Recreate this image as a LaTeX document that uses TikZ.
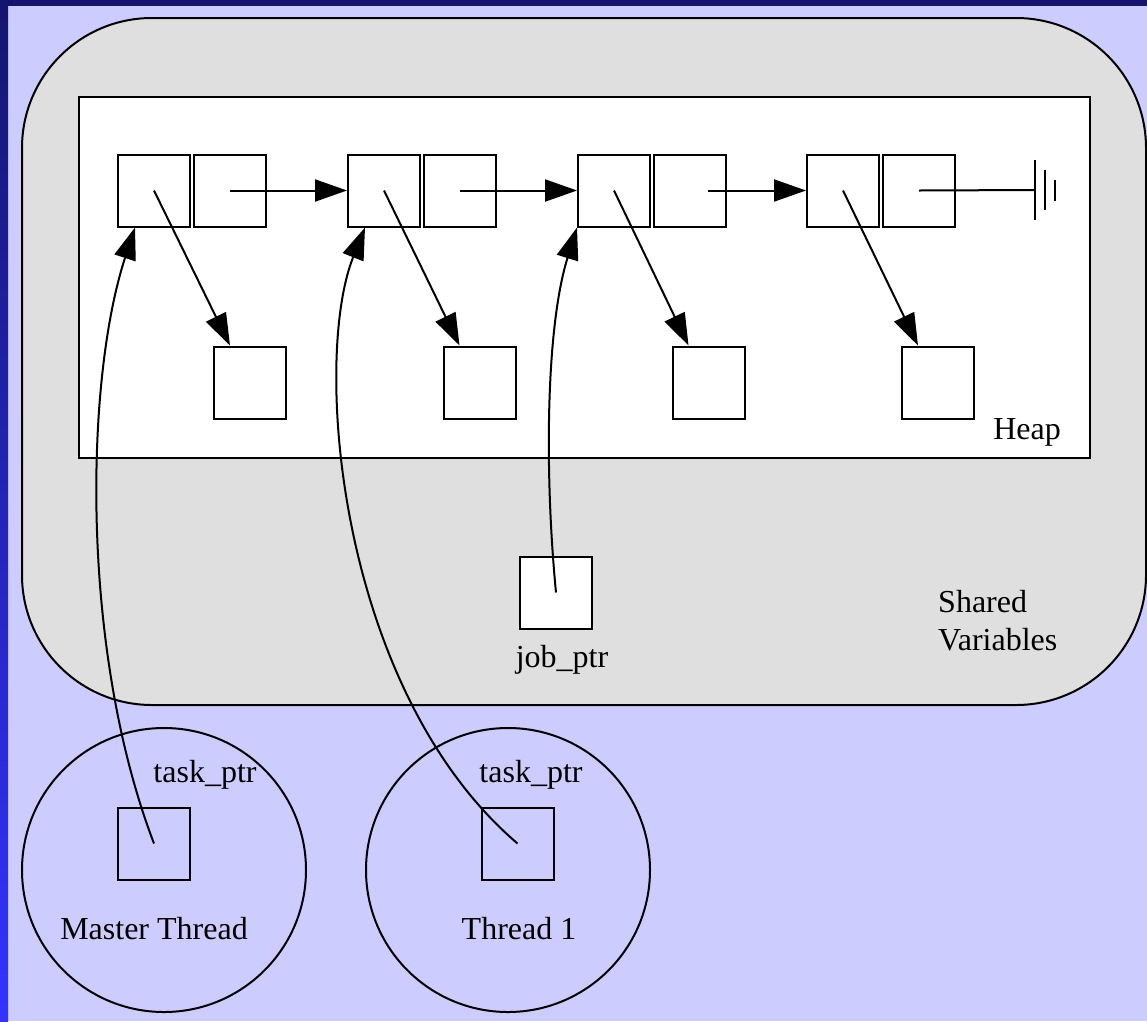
\documentclass[tikz,border=0pt]{standalone}
\usepackage{fontspec}
\setmainfont{Liberation Serif}
\usetikzlibrary{arrows.meta,calc}
\definecolor{slidebg}{HTML}{CCCCFF}
\definecolor{barnavy}{HTML}{15156F}
\definecolor{barblue}{HTML}{3333FF}
\definecolor{sharedgray}{HTML}{DFDFDF}
\tikzset{
  cell/.style={draw, fill=white, line width=2pt, minimum width=72pt, minimum height=72pt, inner sep=0pt},
  ptr/.style={line width=2pt, -{Triangle[length=32pt,width=22pt]}},
  link/.style={line width=2pt},
  lbl/.style={font=\fontsize{32}{38}\selectfont, inner sep=0pt},
}
\begin{document}
\begin{tikzpicture}[x=1pt,y=-1pt]
\useasboundingbox (0,0) rectangle (1147,1021);
% slide background with its top and left bars
\fill[slidebg] (0,0) rectangle (1147,1021);
\fill[barnavy] (0,0) rectangle (1147,6);
\shade[top color=barnavy, bottom color=barblue] (0,0) rectangle (8,1021);

% shared memory region
\draw[fill=sharedgray, line width=2pt, rounded corners=130pt] (22,18) rectangle (1146,705);
% heap
\draw[fill=white, line width=2pt] (79,97) rectangle (1090,458);
\node[lbl] (heaplbl) at (1027,432) {Heap};
\node[lbl, align=left, anchor=west] (sharedlbl) at (938,621) {Shared\\Variables};

% list cells
\foreach \i/\lx/\rx/\sx in {1/154/230/250, 2/384/460/479.5, 3/614/690/708.5, 4/843/919/938} {
  \node[cell] (l\i) at (\lx,190.5) {};
  \node[cell] (r\i) at (\rx,190.5) {};
  \node[cell] (s\i) at (\sx,382.5) {};
}
\foreach \i in {1,...,4} {
  \draw[ptr] (l\i.center) -- ([xshift=-20pt]s\i.north);
}
\draw[ptr] (r1.center) -- (l2.west);
\draw[ptr] (r2.center) -- (l3.west);
\draw[ptr] ([xshift=18pt]r3.center) -- (l4.west);

% null terminator (ground symbol)
\coordinate (gnd) at (1035,190);
\draw[link] (r4.center) -- (gnd);
\draw[link] (1035,160) -- (1035,220);
\draw[link] (1045,170) -- (1045,210);
\draw[link] (1055,180) -- (1055,201);

% job pointer
\node[cell] (job) at (556,592.5) {};
\node[lbl] (joblbl) at (562,660) {job\_ptr};

% threads
\draw[line width=2pt] (164,870) circle (142);
\draw[line width=2pt] (508,870) circle (142);
\node[cell, fill=none] (t0) at (154,843.5) {};
\node[cell, fill=none] (t1) at (517.5,843.5) {};
\node[lbl] (t0lbl) at (205,775) {task\_ptr};
\node[lbl] (t1lbl) at (531,775) {task\_ptr};
\node[lbl] (m0) at (154,929) {Master Thread};
\node[lbl] (m1) at (519,929) {Thread 1};

% pointer curves
\draw[ptr] (job.center) .. controls (545,480) and (545,330) .. ([xshift=-37pt]l3.south);
\draw[ptr] (t0.center) .. controls (80,650) and (85,380) .. ([xshift=-19pt]l1.south);
\draw[ptr] (t1.center) .. controls (338,690) and (312,360) .. ([xshift=-19pt]l2.south);
\end{tikzpicture}
\end{document}
